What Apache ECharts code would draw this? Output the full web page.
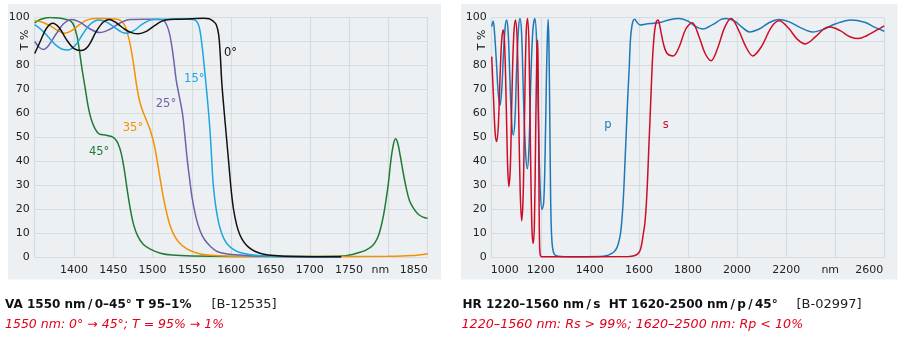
<!DOCTYPE html>
<html>
<head>
<meta charset="utf-8">
<script src="https://cdn.jsdelivr.net/npm/echarts@6/dist/echarts.min.js"></script>
<style>
  html, body { margin: 0; padding: 0; background: #ffffff; }
  #chart { width: 900px; height: 339px; }
</style>
</head>
<body>
<div id="chart"></div>
<script>
// ---- VA 1550 nm / 0–45° : transmission (%) vs wavelength (nm), per angle ----
const va0deg = [[1350,85],[1357,90],[1365,95.5],[1373,97.6],[1381,95.8],[1390,91],[1400,87],[1409,86.2],[1418,88],[1428,94],
  [1437,98],[1445,99.2],[1455,97.5],[1465,95],[1474,93.6],[1482,93.2],[1492,94.2],[1502,96.5],[1512,98.5],[1522,99.2],
  [1535,99.3],[1550,99.5],[1565,99.7],[1572,99.5],[1577,98.5],[1581,97],[1584,93],[1586,85],[1588,73],[1591,61],
  [1594,50],[1597,39],[1600,28],[1603,20],[1607,13.5],[1611,9.5],[1616,6.5],[1622,4.3],[1630,2.6],[1640,1.5],
  [1655,0.8],[1680,0.4],[1740,0.3]];
const va15deg = [[1350,97],[1358,95],[1367,92],[1377,88.5],[1385,86.8],[1393,86.5],[1402,88.5],[1411,93],[1420,97],[1431,99],
  [1441,98.2],[1452,95.8],[1460,94],[1467,93.4],[1476,94.5],[1486,97],[1496,98.8],[1505,99.2],[1520,99.3],[1540,99.4],
  [1552,99.2],[1557,98],[1560,95],[1563,88],[1565,82],[1568,72],[1570,65],[1573,53],[1575,42],[1577,31],
  [1580,22],[1584,14.5],[1588,10],[1593,6.5],[1600,4],[1610,2.2],[1628,1],[1650,0.5],[1740,0.3]];
const va25deg = [[1350,90],[1356,87.5],[1361,86.7],[1368,88.5],[1377,93],[1387,97.5],[1397,99.2],[1408,98],[1420,95.3],[1433,93.7],
  [1445,95],[1458,97.6],[1471,99.2],[1490,99.3],[1505,99.3],[1513,99],[1517,97.5],[1521,94],[1524,89],[1527,82],
  [1530,74],[1534,67],[1538,60],[1541,51],[1544,41],[1547,33],[1550,25.5],[1555,17],[1560,11.5],[1566,7.5],
  [1574,4.5],[1582,2.5],[1595,1.5],[1611,1],[1640,0.5],[1740,0.3]];
const va35deg = [[1350,98.7],[1360,98],[1370,96.5],[1380,94.5],[1388,93.4],[1397,94.5],[1407,97],[1417,99],[1429,99.6],[1440,99.6],
  [1452,99.4],[1459,98.8],[1464,97],[1468,93.5],[1472,88],[1476,80],[1480,71],[1484,64.5],[1488,60.5],[1493,56.5],
  [1498,52],[1502,47],[1506,40],[1510,32],[1514,24.5],[1518,18.5],[1522,13.5],[1527,9.5],[1533,6.5],[1543,3.7],
  [1555,2],[1570,1],[1600,0.5],[1700,0.4],[1800,0.5],[1830,0.8],[1850,1.6]];
const va45deg = [[1350,97.8],[1358,99.3],[1369,100],[1380,99.8],[1390,99.2],[1396,98.5],[1400,96.5],[1404,92],[1407,86],[1410,79],
  [1414,71],[1418,63],[1422,57.5],[1427,53.5],[1432,51.5],[1440,51],[1447,50.5],[1452,49.5],[1456,47.5],[1460,43.5],
  [1464,36.5],[1468,27.5],[1472,19.5],[1476,13.5],[1481,9],[1488,5.5],[1497,3.5],[1510,1.8],[1525,1],[1550,0.6],
  [1600,0.4],[1700,0.4],[1740,0.6],[1751,1],[1762,2],[1772,3.2],[1780,5],[1786,8],[1790,12],[1794,18],
  [1797,24],[1800,31],[1803,40],[1806,46.5],[1809,49.5],[1812,47.5],[1815,42.5],[1819,35],[1823,28.5],[1827,23.5],
  [1832,20.5],[1838,18],[1844,16.8],[1850,16.3]];

// ---- HR 1220–1560 nm / s, HT 1620–2500 nm / p / 45° ----
const hrP = [[1000,96.2],[1006,98.5],[1012,93],[1020,80],[1027,68],[1034,63.5],[1041,70],[1048,85],[1055,96],[1061,99],
  [1067,94],[1074,75],[1081,57],[1088,51],[1095,58],[1102,80],[1109,95],[1115,99.6],[1122,93],[1130,65],
  [1138,44],[1145,37],[1152,46],[1160,76],[1168,95],[1176,99.6],[1183,90],[1190,60],[1197,30],[1205,20],
  [1212,23],[1218,45],[1223,75],[1227,92],[1230,99.2],[1233,90],[1236,65],[1239,35],[1242,15],[1246,6],
  [1251,2.5],[1258,1],[1270,0.5],[1300,0.3],[1440,0.4],[1470,0.8],[1485,1.5],[1500,2.5],[1510,4],[1518,6.5],
  [1525,10],[1530,15],[1535,22],[1540,32],[1545,44],[1550,56],[1555,68],[1560,78],[1565,90],[1570,95.5],
  [1576,98.5],[1583,99.3],[1592,98],[1605,96.9],[1630,97.3],[1660,97.6],[1690,98],[1720,99],[1765,99.6],[1800,98.5],
  [1830,96.3],[1861,95.2],[1900,97],[1935,99.2],[1956,99.6],[1990,98.5],[2020,96],[2051,94],[2090,95.2],[2130,97.8],
  [2170,99.2],[2210,98.3],[2260,95.7],[2308,94],[2350,95],[2400,97.3],[2464,99],[2520,98],[2560,96],[2600,94.3]];
const hrS = [[1000,83.7],[1008,65],[1014,52],[1020,48.3],[1027,55],[1035,78],[1041,91],[1047,94.8],[1053,88],[1060,60],
  [1065,38],[1070,29.5],[1076,38],[1083,70],[1090,93],[1097,99],[1104,90],[1110,60],[1116,28],[1122,15.3],
  [1128,25],[1134,60],[1140,92],[1146,99.6],[1152,88],[1158,45],[1164,12],[1169,5.9],[1174,14],[1179,50],
  [1184,85],[1187,90.6],[1189,80],[1191,55],[1193,25],[1195,6],[1198,1],[1205,0.3],[1560,0.4],[1580,0.7],
  [1595,1.5],[1605,3],[1612,6],[1618,10],[1624,14],[1630,22],[1635,32],[1640,45],[1645,57],[1650,70],
  [1655,82],[1660,90],[1666,96],[1672,98.5],[1678,99],[1686,96],[1700,89],[1715,85],[1740,84],[1765,88],
  [1790,95],[1817,97.8],[1845,92],[1870,85],[1894,82],[1920,87],[1950,96],[1976,99.6],[2005,95],[2035,88],
  [2064,84],[2100,88],[2140,96],[2172,98.6],[2210,95.5],[2245,91],[2278,89],[2320,92],[2360,95.7],[2380,96],
  [2420,94.5],[2460,92],[2495,91.2],[2530,92.5],[2565,94.5],[2600,96.5]];

const xTicksLeft = { min: 1350, max: 1850, step: 50 };
const xTicksRight = { min: 1000, max: 2600, step: 200 };
const yTicks = { min: 0, max: 100, step: 10 };

const FONT = 'DejaVu Sans';
const GRID_COLOR = '#d5dce2';
const PANEL_COLOR = '#edf0f3';
const THIN = '\u2009';

const C = {
  d0: '#111111', d15: '#1ba6e1', d25: '#6f62a8', d35: '#f39200', d45: '#1e7b34',
  p: '#1f78b5', s: '#cf0c25', note: '#e3001b'
};

const curvesLeft = [
  { name: '45°', data: va45deg, color: C.d45, at: [1432, 44] },
  { name: '35°', data: va35deg, color: C.d35, at: [1475, 54] },
  { name: '25°', data: va25deg, color: C.d25, at: [1517, 64] },
  { name: '15°', data: va15deg, color: C.d15, at: [1553, 74.5] },
  { name: '0°',  data: va0deg,  color: C.d0,  at: [1599, 85] }
];
const curvesRight = [
  { name: 'p', data: hrP, color: C.p, at: [1474, 55] },
  { name: 's', data: hrS, color: C.s, at: [1709, 55] }
];

function labelStyle(color) {
  return { show: true, position: 'inside', color: color, fontFamily: FONT, fontSize: 11.5 };
}

function makeSeries(curves, axisIndex) {
  return curves.map(c => ({
    type: 'line',
    name: c.name,
    xAxisIndex: axisIndex,
    yAxisIndex: axisIndex,
    data: c.data,
    showSymbol: false,
    smooth: 0.35,
    lineStyle: { color: c.color, width: 1.5 },
    itemStyle: { color: c.color },
    animation: false,
    silent: true,
    markPoint: {
      symbol: 'circle',
      symbolSize: 0,
      silent: true,
      animation: false,
      label: labelStyle(c.color),
      data: [{ coord: c.at, value: c.name, label: { formatter: c.name } }]
    }
  }));
}

const axisLabelBase = { color: '#222', fontFamily: FONT, fontSize: 11 };

function xAxis(idx, t, formatter, rich) {
  return {
    type: 'value', gridIndex: idx, min: t.min, max: t.max, interval: t.step,
    axisLine: { show: false }, axisTick: { show: false },
    splitLine: { show: true, lineStyle: { color: GRID_COLOR, width: 1.2 } },
    axisLabel: Object.assign({}, axisLabelBase, { margin: 7, formatter: formatter, rich: rich })
  };
}
function yAxis(idx) {
  return {
    type: 'value', gridIndex: idx, min: yTicks.min, max: yTicks.max, interval: yTicks.step,
    axisLine: { show: false }, axisTick: { show: false },
    splitLine: { show: true, lineStyle: { color: GRID_COLOR, width: 1.2 } },
    axisLabel: Object.assign({}, axisLabelBase, {
      margin: 5,
      formatter: v => (v === 90 ? '' : String(v))
    })
  };
}

const richBase = { fontFamily: FONT, fontSize: 11, color: '#222' };
const richLeft = {
  nm: Object.assign({}, richBase, { padding: [0, 16, 0, 0] }),
  r: Object.assign({}, richBase, { padding: [0, 28, 0, 0] })
};
const richRight = {
  nm: Object.assign({}, richBase, { padding: [0, 10, 0, 0] }),
  l: Object.assign({}, richBase, { padding: [0, 0, 0, 26] }),
  r: Object.assign({}, richBase, { padding: [0, 30, 0, 0] })
};

const fmtLeft = v => {
  if (v === xTicksLeft.min) return '';
  if (v === 1800) return '{nm|nm}';
  if (v === xTicksLeft.max) return '{r|' + v + '}';
  return String(v);
};
const fmtRight = v => {
  if (v === xTicksRight.min) return '{l|' + v + '}';
  if (v === 2400) return '{nm|nm}';
  if (v === xTicksRight.max) return '{r|' + v + '}';
  return String(v);
};

function textEl(x, y, text, opts) {
  return {
    type: 'text', x: x, y: y, silent: true, z: 10,
    style: Object.assign({ text: text, fontFamily: FONT, fontSize: 12, fill: '#111',
      textVerticalAlign: 'middle', verticalAlign: 'middle' }, opts || {})
  };
}

const titleLeft = 'VA 1550 nm' + THIN + '/' + THIN + '0–45° T 95–1%';
const titleRight = 'HR 1220–1560 nm' + THIN + '/' + THIN + 's  HT 1620-2500 nm' + THIN + '/' + THIN + 'p' + THIN + '/' + THIN + '45°';

const option = {
  animation: false,
  backgroundColor: '#ffffff',
  grid: [
    { left: 34.7, top: 17.5, width: 393, height: 240 },
    { left: 491.7, top: 17.5, width: 392.6, height: 240 }
  ],
  xAxis: [xAxis(0, xTicksLeft, fmtLeft, richLeft), xAxis(1, xTicksRight, fmtRight, richRight)],
  yAxis: [yAxis(0), yAxis(1)],
  graphic: [
    { type: 'rect', z: -100, silent: true, shape: { x: 8, y: 4, width: 433, height: 275.5 }, style: { fill: PANEL_COLOR } },
    { type: 'rect', z: -100, silent: true, shape: { x: 461, y: 4, width: 436.5, height: 275.5 }, style: { fill: PANEL_COLOR } },
    textEl(25.5, 40, 'T %', { fontSize: 11, align: 'center' }),
    textEl(482.5, 40, 'T %', { fontSize: 11, align: 'center' }),
    textEl(5, 305, titleLeft, { fontWeight: 'bold' }),
    textEl(211.5, 305, '[B-12535]', { fill: '#222', fontSize: 13 }),
    textEl(5, 325, '1550 nm: 0° → 45°; T = 95% → 1%', { fontStyle: 'italic', fontSize: 12.5, fill: C.note }),
    textEl(462.5, 305, titleRight, { fontWeight: 'bold' }),
    textEl(796.5, 305, '[B-02997]', { fill: '#222', fontSize: 13 }),
    textEl(461.5, 325, '1220–1560 nm: Rs > 99%; 1620–2500 nm: Rp < 10%', { fontStyle: 'italic', fontSize: 12.7, fill: C.note })
  ],
  series: makeSeries(curvesLeft, 0).concat(makeSeries(curvesRight, 1))
};

// rotate the "T %" axis captions to read bottom-to-top
option.graphic[2].rotation = Math.PI / 2;
option.graphic[3].rotation = Math.PI / 2;

const chart = echarts.init(document.getElementById('chart'), null, { renderer: 'canvas' });
chart.setOption(option);
</script>
</body>
</html>
